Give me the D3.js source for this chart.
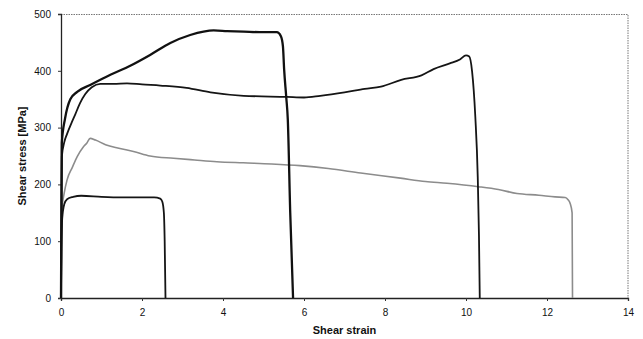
<!DOCTYPE html>
<html>
<head>
<meta charset="utf-8">
<script src="https://cdn.jsdelivr.net/npm/d3@7"></script>
<style>
  body { margin: 0; background: #fff; }
  text { font-family: "Liberation Sans", Arial, sans-serif; }
</style>
</head>
<body>
<script>
// dimensions
var w = 643;
var h = 339;
var marge = {top: 14, right: 15, bottom: 41, left: 61};

// ticks
var xTicks = [0, 2, 4, 6, 8, 10, 12, 14];
var yTicks = [0, 100, 200, 300, 400, 500];

// curves [strain, stress]
var curveA = [[0,0],[0.01,150],[0.02,273],[0.1,316],[0.23,350],[0.4,363],[0.72,375],[1.22,393],
  [1.71,409],[2.2,428],[2.7,449],[3.19,463],[3.52,469],[3.77,471],[4.1,470],[4.51,469],[5.0,468],
  [5.33,468],[5.43,461],[5.48,443],[5.51,402],[5.56,355],[5.6,314],[5.66,150],[5.73,0]];

var curveB = [[0,0],[0.01,120],[0.02,249],[0.08,274],[0.15,289],[0.27,310],[0.35,323],[0.47,343],
  [0.6,359],[0.76,371],[0.97,377],[1.3,377],[1.63,378],[2.0,376],[2.45,374],[3.1,370],[3.69,362],
  [4.51,356],[5.58,354],[6.0,353],[6.4,356],[7.0,362],[7.5,368],[7.9,372],[8.4,384],[8.9,392],
  [9.2,403],[9.6,413],[9.85,420],[10.0,427],[10.08,425],[10.15,399],[10.23,319],[10.29,213],
  [10.32,110],[10.34,0]];

var curveC = [[0,0],[0.01,100],[0.02,155],[0.08,185],[0.15,208],[0.28,230],[0.4,249],[0.55,266],
  [0.64,273],[0.72,281],[0.85,278],[1.1,270],[1.4,264],[1.79,258],[2.2,250],[2.78,246],[3.3,243],
  [3.85,240],[4.5,238],[5.2,236],[5.9,233],[6.6,228],[7.4,220],[8.38,211],[9.0,205],[9.53,202],
  [10.31,196],[10.8,191],[11.26,184],[11.8,181],[12.2,178],[12.45,177],[12.52,173],[12.57,167],
  [12.62,150],[12.63,0]];

var curveD = [[0,0],[0.01,90],[0.03,140],[0.08,165],[0.15,174],[0.3,178],[0.5,180],[1.0,178],
  [1.5,177],[2.0,177],[2.3,177],[2.45,175],[2.5,170],[2.54,150],[2.56,100],[2.58,0]];

var courbes = [
  {data: curveC, couleur: "#8c8c8c", epaisseur: 1.6},
  {data: curveD, couleur: "#151515", epaisseur: 1.8},
  {data: curveB, couleur: "#151515", epaisseur: 1.8},
  {data: curveA, couleur: "#111111", epaisseur: 2.3}
];

var largeur = w - marge.left - marge.right;
var hauteur = h - marge.top - marge.bottom;

var svg = d3.select("body")
  .append("svg")
  .attr("width", w)
  .attr("height", h);

var g = svg.append("g")
  .attr("transform", "translate(" + marge.left + "," + marge.top + ")");

var x = d3.scaleLinear().domain([0, 14]).range([0, largeur]);
var y = d3.scaleLinear().domain([0, 500]).range([hauteur, 0]);

// cadre pointille haut et droite
g.append("path")
  .attr("d", "M0,0.5H" + largeur + "V" + hauteur)
  .attr("fill", "none")
  .attr("stroke", "#777")
  .attr("stroke-width", 1)
  .attr("stroke-dasharray", "1.5,1");

// axes
var xAxis = d3.axisBottom(x).tickValues(xTicks).tickSize(3).tickPadding(8);
var yAxis = d3.axisLeft(y).tickValues(yTicks).tickSize(3).tickPadding(7);

var gx = g.append("g")
  .attr("transform", "translate(0," + hauteur + ")")
  .call(xAxis);
var gy = g.append("g").call(yAxis);

[gx, gy].forEach(function(a) {
  a.select(".domain").attr("stroke", "#222").attr("stroke-width", 1.3);
  a.selectAll(".tick line").attr("stroke", "#333");
  a.selectAll(".tick text")
    .attr("font-size", "10px")
    .attr("fill", "#111")
    .style("font-family", "'Liberation Sans', Arial, sans-serif");
});

// courbes
var ligne = d3.line()
  .curve(d3.curveMonotoneX)
  .x(function(d) { return x(d[0]); })
  .y(function(d) { return y(d[1]); });

g.selectAll(".courbe")
  .data(courbes)
  .enter()
  .append("path")
  .attr("class", "courbe")
  .attr("d", function(d) { return ligne(d.data); })
  .attr("fill", "none")
  .attr("stroke", function(d) { return d.couleur; })
  .attr("stroke-width", function(d) { return d.epaisseur; })
  .attr("stroke-linejoin", "round");

// titres des axes
svg.append("text")
  .text("Shear strain")
  .attr("x", marge.left + largeur / 2)
  .attr("y", 334)
  .attr("text-anchor", "middle")
  .attr("font-size", "11px")
  .attr("font-weight", "bold")
  .attr("fill", "#111");

svg.append("text")
  .text("Shear stress [MPa]")
  .attr("transform", "translate(26," + (marge.top + hauteur / 2) + ") rotate(-90)")
  .attr("text-anchor", "middle")
  .attr("font-size", "11px")
  .attr("font-weight", "bold")
  .attr("fill", "#111");
</script>
</body>
</html>
